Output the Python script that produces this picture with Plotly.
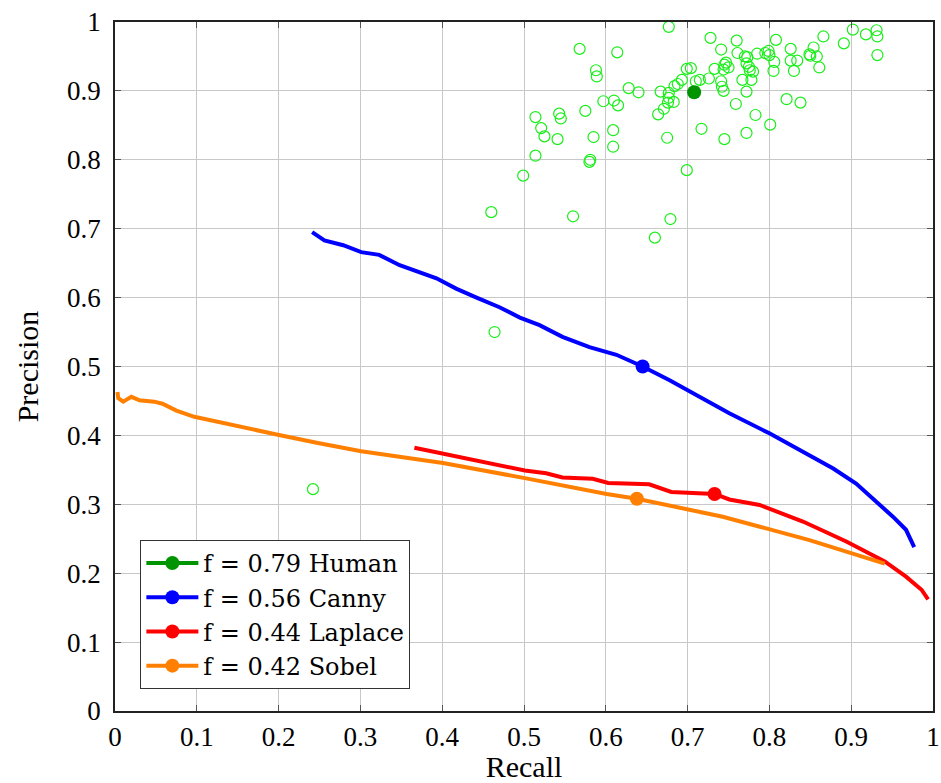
import plotly.graph_objects as go

# Human annotator precision/recall pairs (open circles)
human_recall = [
    0.677, 0.568, 0.614, 0.588, 0.589, 0.628, 0.640, 0.667, 0.677, 0.684,
    0.688, 0.693, 0.699, 0.704, 0.597, 0.610, 0.615, 0.575, 0.514, 0.543,
    0.545, 0.521, 0.525, 0.541, 0.585, 0.609, 0.609, 0.675, 0.677, 0.683,
    0.676, 0.671, 0.664, 0.514, 0.580, 0.581, 0.499, 0.699, 0.460, 0.560,
    0.679, 0.660, 0.464, 0.242,
    0.728, 0.760, 0.808, 0.741, 0.761, 0.770, 0.773, 0.785, 0.795, 0.799,
    0.800, 0.826, 0.854, 0.866, 0.902, 0.918, 0.931, 0.932, 0.891, 0.932,
    0.849, 0.850, 0.858, 0.826, 0.834, 0.806, 0.805, 0.830, 0.861, 0.747,
    0.745, 0.750, 0.744, 0.733, 0.772, 0.775, 0.780, 0.726, 0.715, 0.710,
    0.741, 0.742, 0.744, 0.767, 0.778, 0.772, 0.759, 0.821, 0.838, 0.783,
    0.801, 0.717, 0.772, 0.745, 0.776,
]
human_precision = [
    0.993, 0.961, 0.956, 0.930, 0.921, 0.904, 0.898, 0.899, 0.897, 0.907,
    0.910, 0.916, 0.932, 0.933, 0.885, 0.886, 0.879, 0.871, 0.862, 0.867,
    0.860, 0.846, 0.834, 0.830, 0.833, 0.843, 0.819, 0.832, 0.890, 0.884,
    0.883, 0.874, 0.866, 0.806, 0.797, 0.800, 0.777, 0.785, 0.724, 0.718,
    0.714, 0.687, 0.550, 0.322,
    0.977, 0.973, 0.974, 0.960, 0.955, 0.950, 0.949, 0.954, 0.955, 0.958,
    0.952, 0.961, 0.963, 0.979, 0.989, 0.982, 0.988, 0.979, 0.969, 0.952,
    0.953, 0.951, 0.950, 0.944, 0.944, 0.942, 0.929, 0.929, 0.934, 0.941,
    0.938, 0.934, 0.931, 0.932, 0.940, 0.935, 0.928, 0.918, 0.916, 0.914,
    0.914, 0.906, 0.900, 0.916, 0.916, 0.899, 0.881, 0.888, 0.883, 0.865,
    0.851, 0.845, 0.839, 0.830, 0.930,
]
human_best = (0.708, 0.898)

# Canny detector PR curve
canny_recall = [0.241, 0.256, 0.279, 0.301, 0.323, 0.348, 0.393, 0.417, 0.442,
                0.470, 0.495, 0.519, 0.547, 0.580, 0.613, 0.637, 0.645, 0.678,
                0.711, 0.751, 0.800, 0.841, 0.878, 0.906, 0.931, 0.951, 0.967,
                0.977]
canny_precision = [0.695, 0.683, 0.676, 0.666, 0.662, 0.647, 0.628, 0.613, 0.600,
                   0.586, 0.571, 0.560, 0.543, 0.528, 0.517, 0.504, 0.500, 0.480,
                   0.459, 0.432, 0.403, 0.376, 0.352, 0.330, 0.304, 0.282, 0.263,
                   0.238]
canny_best = (0.645, 0.500)

# Laplace detector PR curve
laplace_recall = [0.366, 0.421, 0.462, 0.478, 0.501, 0.527, 0.547, 0.584, 0.603,
                  0.653, 0.666, 0.680, 0.733, 0.751, 0.788, 0.841, 0.894, 0.941,
                  0.967, 0.986, 0.994]
laplace_precision = [0.382, 0.369, 0.359, 0.355, 0.349, 0.345, 0.339, 0.337, 0.331,
                     0.329, 0.323, 0.318, 0.315, 0.307, 0.299, 0.275, 0.246, 0.217,
                     0.195, 0.176, 0.162]
laplace_best = (0.733, 0.315)

# Sobel detector PR curve
sobel_recall = [0.003, 0.004, 0.010, 0.020, 0.030, 0.048, 0.058, 0.075, 0.097,
                0.150, 0.199, 0.248, 0.301, 0.354, 0.401, 0.501, 0.601, 0.638,
                0.666, 0.743, 0.849, 0.941]
sobel_precision = [0.463, 0.454, 0.449, 0.456, 0.451, 0.449, 0.446, 0.436, 0.427,
                   0.413, 0.401, 0.389, 0.377, 0.368, 0.360, 0.338, 0.315, 0.308,
                   0.301, 0.282, 0.248, 0.214]
sobel_best = (0.638, 0.308)

legend_names = ["f = 0.79 Human", "f = 0.56 Canny", "f = 0.44 Laplace", "f = 0.42 Sobel"]
tick_vals = [0, 0.1, 0.2, 0.3, 0.4, 0.5, 0.6, 0.7, 0.8, 0.9, 1]
tick_text = ["0", "0.1", "0.2", "0.3", "0.4", "0.5", "0.6", "0.7", "0.8", "0.9", "1"]

GREEN_DARK = "#009400"
GREEN_LIGHT = "#1aee1a"
BLUE = "#0000ff"
RED = "#ff0000"
ORANGE = "#ff8000"
FONT = "Liberation Serif"
LEGEND_FONT = "DejaVu Serif"

fig = go.Figure()

fig.add_trace(go.Scatter(
    x=human_recall, y=human_precision, mode="markers", showlegend=False,
    marker=dict(symbol="circle-open", size=11, color=GREEN_LIGHT,
                line=dict(width=1.2, color=GREEN_LIGHT)),
    hoverinfo="skip",
))


def add_curve(xs, ys, color):
    fig.add_trace(go.Scatter(
        x=xs, y=ys, mode="lines", showlegend=False,
        line=dict(color=color, width=4),
    ))


def add_best(pt, color, name):
    fig.add_trace(go.Scatter(
        x=[pt[0]], y=[pt[1]], mode="lines+markers", name=name,
        line=dict(color=color, width=4),
        marker=dict(color=color, size=14),
    ))


add_curve(canny_recall, canny_precision, BLUE)
add_curve(laplace_recall, laplace_precision, RED)
add_curve(sobel_recall, sobel_precision, ORANGE)

add_best(human_best, GREEN_DARK, legend_names[0])
add_best(canny_best, BLUE, legend_names[1])
add_best(laplace_best, RED, legend_names[2])
add_best(sobel_best, ORANGE, legend_names[3])

axis_common = dict(
    range=[0, 1], tickvals=tick_vals, ticktext=tick_text,
    showgrid=True, gridcolor="#c8c8c8", gridwidth=1,
    zeroline=False, showline=True, linecolor="#222222", linewidth=1.5,
    mirror="ticks", ticks="inside", ticklen=6, tickcolor="#555555",
    tickfont=dict(family=FONT, size=27, color="black"),
)

fig.update_layout(
    width=941, height=783,
    margin=dict(l=115, r=8, t=22, b=72, autoexpand=False),
    paper_bgcolor="white", plot_bgcolor="white",
    font=dict(family=FONT, size=27, color="black"),
    xaxis=dict(**axis_common, ticklabelstandoff=1,
               title=dict(text="Recall", font=dict(family=FONT, size=30), standoff=12)),
    yaxis=dict(**axis_common, ticklabelstandoff=7,
               title=dict(text="Precision", font=dict(family=FONT, size=30), standoff=20)),
    legend=dict(
        x=0.031, y=0.032, xanchor="left", yanchor="bottom",
        bgcolor="white", bordercolor="#333333", borderwidth=1,
        font=dict(family=LEGEND_FONT, size=24, color="black"),
        tracegroupgap=0, itemwidth=52,
    ),
)

fig.write_html("out.html")
